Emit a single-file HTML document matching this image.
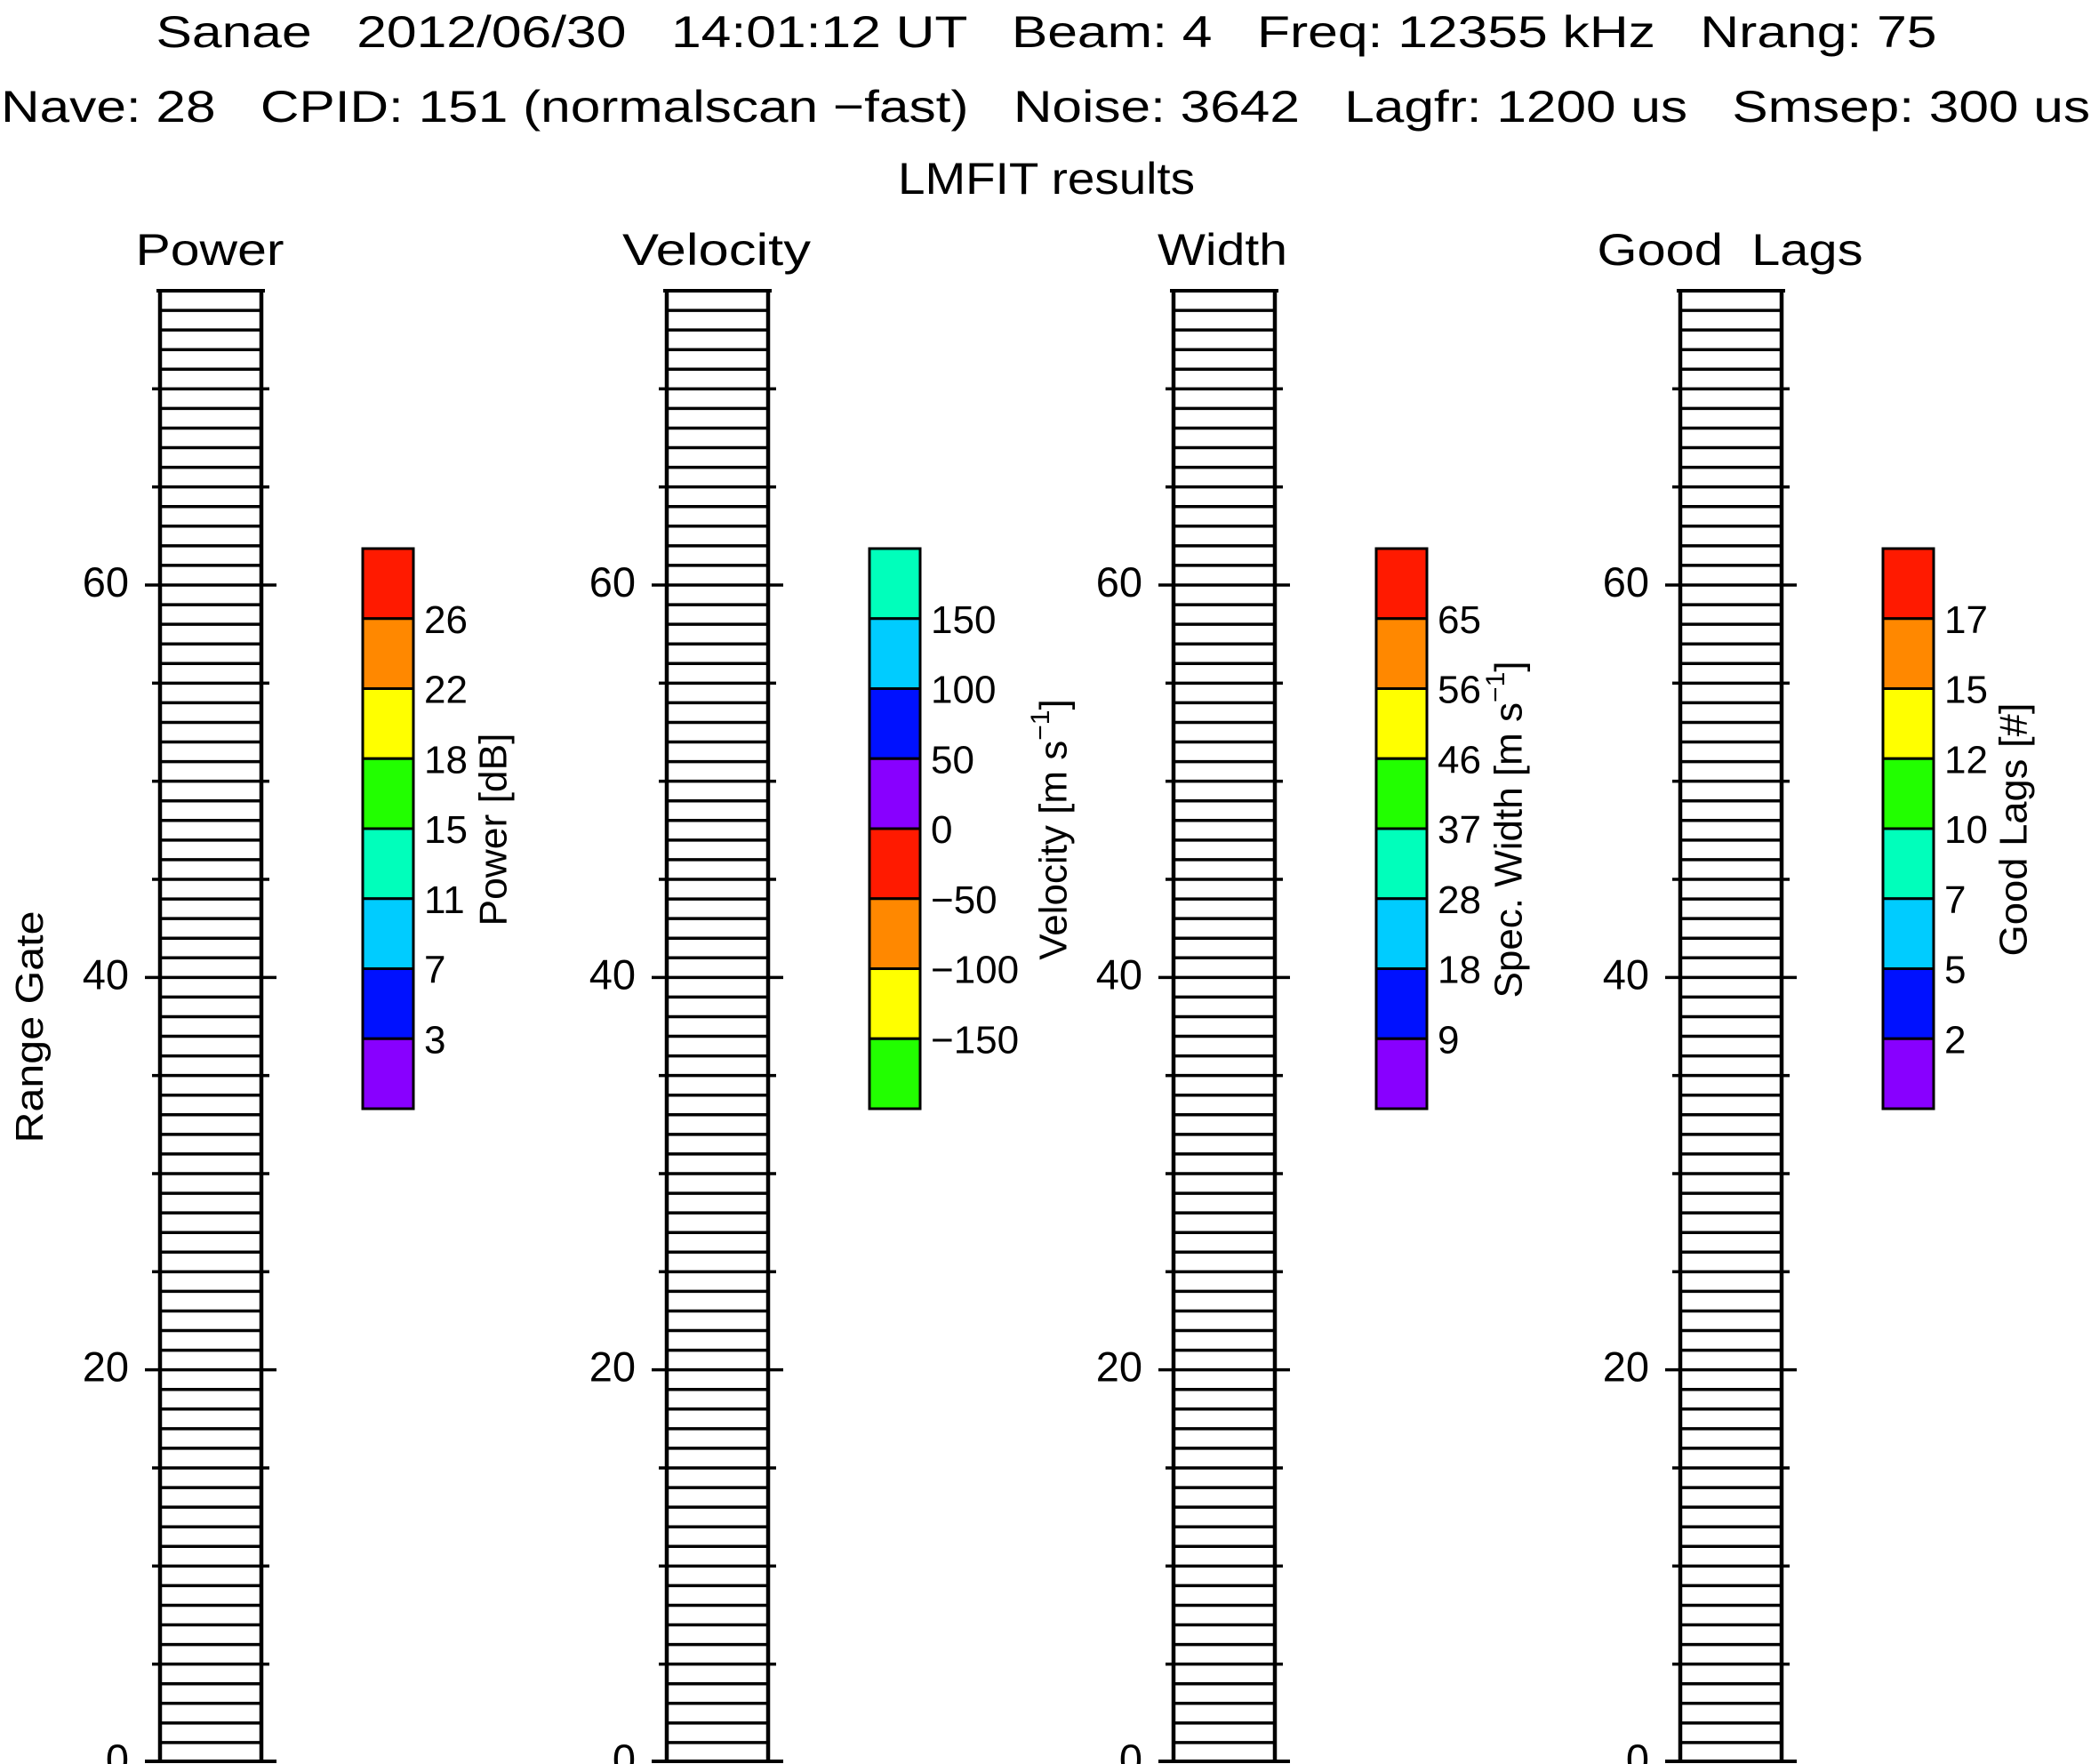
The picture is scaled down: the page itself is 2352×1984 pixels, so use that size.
<!DOCTYPE html>
<html><head><meta charset="utf-8"><style>
html,body{margin:0;padding:0;background:#fff;}
svg{display:block;font-family:"Liberation Sans",sans-serif;}
</style></head><body>
<svg width="2352" height="1984" viewBox="0 0 2352 1984" xmlns="http://www.w3.org/2000/svg">
<rect width="2352" height="1984" fill="#fff"/>
<g fill="#000" font-size="50">
<text x="1177" y="53" text-anchor="middle" textLength="2003" lengthAdjust="spacingAndGlyphs" xml:space="preserve">Sanae   2012/06/30   14:01:12 UT   Beam: 4   Freq: 12355 kHz   Nrang: 75</text>
<text x="1176" y="137" text-anchor="middle" textLength="2350" lengthAdjust="spacingAndGlyphs" xml:space="preserve">Nave: 28   CPID: 151 (normalscan −fast)   Noise: 3642   Lagfr: 1200 us   Smsep: 300 us</text>
<text x="1177" y="218" text-anchor="middle" textLength="334" lengthAdjust="spacingAndGlyphs">LMFIT results</text>
<text x="236" y="298" text-anchor="middle" textLength="167" lengthAdjust="spacingAndGlyphs">Power</text>
<text x="806" y="298" text-anchor="middle" textLength="212" lengthAdjust="spacingAndGlyphs">Velocity</text>
<text x="1375" y="298" text-anchor="middle" textLength="146" lengthAdjust="spacingAndGlyphs">Width</text>
<text x="1946" y="298" text-anchor="middle" textLength="299" lengthAdjust="spacingAndGlyphs" xml:space="preserve">Good  Lags</text>
</g>
<text transform="translate(48,1155) rotate(-90)" text-anchor="middle" font-size="44" textLength="261" lengthAdjust="spacingAndGlyphs">Range Gate</text>
<g id="panels"></g>
<g id="cbars"></g>
<script>
(function(){
var NS="http://www.w3.org/2000/svg";
var g=document.getElementById("panels");
function el(t,a,p,txt){var e=document.createElementNS(NS,t);for(var k in a)e.setAttribute(k,a[k]);if(txt!==undefined)e.textContent=txt;p.appendChild(e);return e;}
var lefts=[180,750,1320,1890],W=114,ytop=327,bot=1982,gh=(bot-ytop)/75;
lefts.forEach(function(L){
  var R=L+W;
  for(var i=1;i<75;i++){var y=bot-i*gh;el("line",{x1:L,x2:R,y1:y,y2:y,stroke:"#000","stroke-width":3.5},g);}
  el("line",{x1:L-4,x2:R+4,y1:ytop,y2:ytop,stroke:"#000","stroke-width":4},g);
  el("line",{x1:L-17,x2:R+17,y1:bot-1,y2:bot-1,stroke:"#000","stroke-width":4},g);
  el("line",{x1:L,x2:L,y1:ytop,y2:bot,stroke:"#000","stroke-width":4.5},g);
  el("line",{x1:R,x2:R,y1:ytop,y2:bot,stroke:"#000","stroke-width":4.5},g);
  for(var v=5;v<75;v+=5){var y=bot-v*gh;var len=(v%20==0)?17:9;
    el("line",{x1:L-len,x2:L,y1:y,y2:y,stroke:"#000","stroke-width":3.5},g);
    el("line",{x1:R,x2:R+len,y1:y,y2:y,stroke:"#000","stroke-width":3.5},g);}
  [0,20,40,60].forEach(function(v){var y=bot-v*gh;
    el("text",{x:L-35,y:y+13,"text-anchor":"end","font-size":47},g,String(v));});
});
var cx=[408,978,1548,2118],ctop=617,bh=78.75,cw=57;
var rb=["#ff1a00","#ff8800","#ffff00","#22ff00","#00ffbb","#00ccff","#0011ff","#8800ff"];
var vel=["#00ffbb","#00ccff","#0011ff","#8800ff","#ff1a00","#ff8800","#ffff00","#22ff00"];
var cols=[rb,vel,rb,rb];
var labs=[["26","22","18","15","11","7","3"],["150","100","50","0","−50","−100","−150"],["65","56","46","37","28","18","9"],["17","15","12","10","7","5","2"]];
var c=document.getElementById("cbars");
for(var p=0;p<4;p++){
  for(var i=0;i<8;i++){el("rect",{x:cx[p],y:ctop+i*bh,width:cw,height:bh,fill:cols[p][i],stroke:"#000","stroke-width":3},c);}
  for(var i=0;i<7;i++){el("text",{x:cx[p]+69,y:ctop+(i+1)*bh+16,"font-size":44},c,labs[p][i]);}
}
})();
</script>
<g font-size="44">
<text transform="translate(555,933) rotate(-90)" text-anchor="middle" dominant-baseline="central" textLength="217" lengthAdjust="spacingAndGlyphs">Power [dB]</text>
<text transform="translate(1185,933) rotate(-90)" text-anchor="middle" dominant-baseline="central">Velocity [m s<tspan dy="-15" font-size="30">−1</tspan><tspan dy="15">]</tspan></text>
<text transform="translate(1697,933) rotate(-90)" text-anchor="middle" dominant-baseline="central">Spec. Width [m s<tspan dy="-15" font-size="30">−1</tspan><tspan dy="15">]</tspan></text>
<text transform="translate(2265,933) rotate(-90)" text-anchor="middle" dominant-baseline="central" textLength="285" lengthAdjust="spacingAndGlyphs">Good Lags [#]</text>
</g>
</svg>
</body></html>
